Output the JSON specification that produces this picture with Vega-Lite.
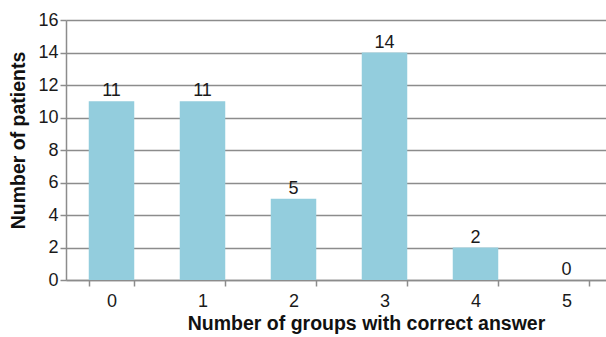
{
  "$schema": "https://vega.github.io/schema/vega-lite/v6.json",
  "autosize": {"type": "none"},
  "padding": {"left": 66, "top": 20, "right": 0, "bottom": 57},
  "width": 546,
  "height": 260,
  "background": "white",
  "data": {
    "values": [
      {"groups": "0", "patients": 11},
      {"groups": "1", "patients": 11},
      {"groups": "2", "patients": 5},
      {"groups": "3", "patients": 14},
      {"groups": "4", "patients": 2},
      {"groups": "5", "patients": 0}
    ]
  },
  "config": {
    "font": "Liberation Sans",
    "view": {"stroke": null},
    "axis": {
      "domainColor": "#8c8c8c",
      "domainWidth": 1.5,
      "tickColor": "#8c8c8c",
      "tickWidth": 1.5,
      "gridColor": "#8c8c8c",
      "gridWidth": 1.5,
      "labelFont": "Liberation Sans",
      "labelFontSize": 18,
      "labelColor": "#1a1a1a",
      "titleFont": "Liberation Sans",
      "titleFontSize": 19.5,
      "titleFontWeight": "bold",
      "titleColor": "#111"
    }
  },
  "encoding": {
    "x": {
      "field": "groups",
      "type": "ordinal",
      "scale": {"paddingInner": 0.5, "paddingOuter": 0.25},
      "axis": {
        "title": "Number of groups with correct answer",
        "labelAngle": 0,
        "labelPadding": 6,
        "tickBand": "extent",
        "tickSize": 6,
        "titlePadding": 4,
        "titleX": 300,
        "titleAnchor": "middle",
        "grid": false
      }
    },
    "y": {
      "field": "patients",
      "type": "quantitative",
      "scale": {"domain": [0, 16]},
      "axis": {
        "title": "Number of patients",
        "values": [0, 2, 4, 6, 8, 10, 12, 14, 16],
        "tickSize": 6,
        "labelPadding": 2,
        "titlePadding": 9,
        "titleY": 120,
        "grid": true
      }
    }
  },
  "layer": [
    {"mark": {"type": "bar", "color": "#93cddd"}},
    {
      "mark": {"type": "text", "dy": -10, "fontSize": 18, "color": "#1a1a1a", "font": "Liberation Sans"},
      "encoding": {"text": {"field": "patients", "type": "quantitative"}}
    }
  ]
}
